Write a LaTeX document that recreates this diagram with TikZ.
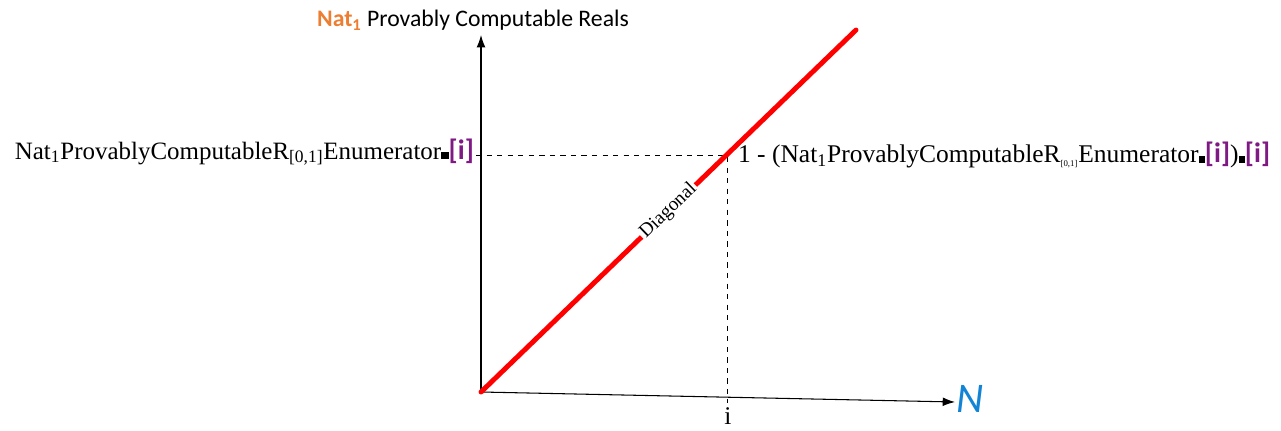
\documentclass[tikz,border=0pt]{standalone}
\usepackage{fontspec}
\setmainfont{Liberation Serif}
\newfontfamily\calibfont{Carlito}
\usepackage{xcolor}
\definecolor{natorange}{HTML}{ED7D31}
\definecolor{idxpurple}{HTML}{7F1A85}
\definecolor{natblue}{HTML}{1383D6}
\usetikzlibrary{arrows.meta,positioning}

\newcommand{\enumsq}[1]{\rule{#1}{#1}}
\newcommand{\idx}{\textcolor{idxpurple}{\calibfont\bfseries\fontsize{16}{18}\selectfont[i]}}

\begin{document}
\begin{tikzpicture}[
		x=0.02cm, y=-0.02cm,
		axis/.style={-{Latex[length=7pt,width=5pt]}, semithick},
		guide/.style={dashed, thin},
		diag/.style={red, line width=2.8pt, line cap=round},
		lbl/.style={font=\fontsize{14.5}{16}\selectfont, inner sep=1pt}
	]
		\useasboundingbox (0,0) rectangle (1281,430);

		\coordinate (origin) at (481,392);
		\coordinate (ytop) at (481,35);
		\coordinate (xend) at (955,402);
		\coordinate (dend) at (856,30);
		\coordinate (hit) at (727,155);
		\coordinate (hstart) at (476,155);
		\coordinate (vend) at (727,403);

		\draw[axis] (origin) -- (ytop);
		\draw[axis] (origin) -- (xend);
		\draw[guide] (hstart) -- (hit) -- (vend);
		\draw[diag] (origin) -- node[sloped, fill=white, inner sep=1pt, text=black, font=\fontsize{11}{12}\selectfont] (diaglabel) {Diagonal} (dend);

		\node[font=\calibfont\fontsize{13.5}{15}\selectfont, inner sep=1pt] (ylabel) at (473,20) {\textcolor{natorange}{\bfseries Nat\textsubscript{1}} Provably Computable Reals};
		\node[lbl, font=\fontsize{14.2}{16}\selectfont, anchor=east] (rowlabel) at (476,152) {Nat\textsubscript{1}ProvablyComputableR\textsubscript{[0,1]}Enumerator\enumsq{0.3em}\idx};
		\node[lbl, anchor=west] (difflabel) at (736,155) {1 - (Nat\textsubscript{1}ProvablyComputableR\textsubscript{\tiny[0,1]}Enumerator\enumsq{0.25em}\idx)\enumsq{0.25em}\idx};
		\node[lbl] (ilabel) at (728,416) {i};
		\node[natblue, font=\calibfont\itshape\fontsize{24}{26}\selectfont, inner sep=0pt] (nlabel) at (970,399) {N};
	\end{tikzpicture}
\end{document}
